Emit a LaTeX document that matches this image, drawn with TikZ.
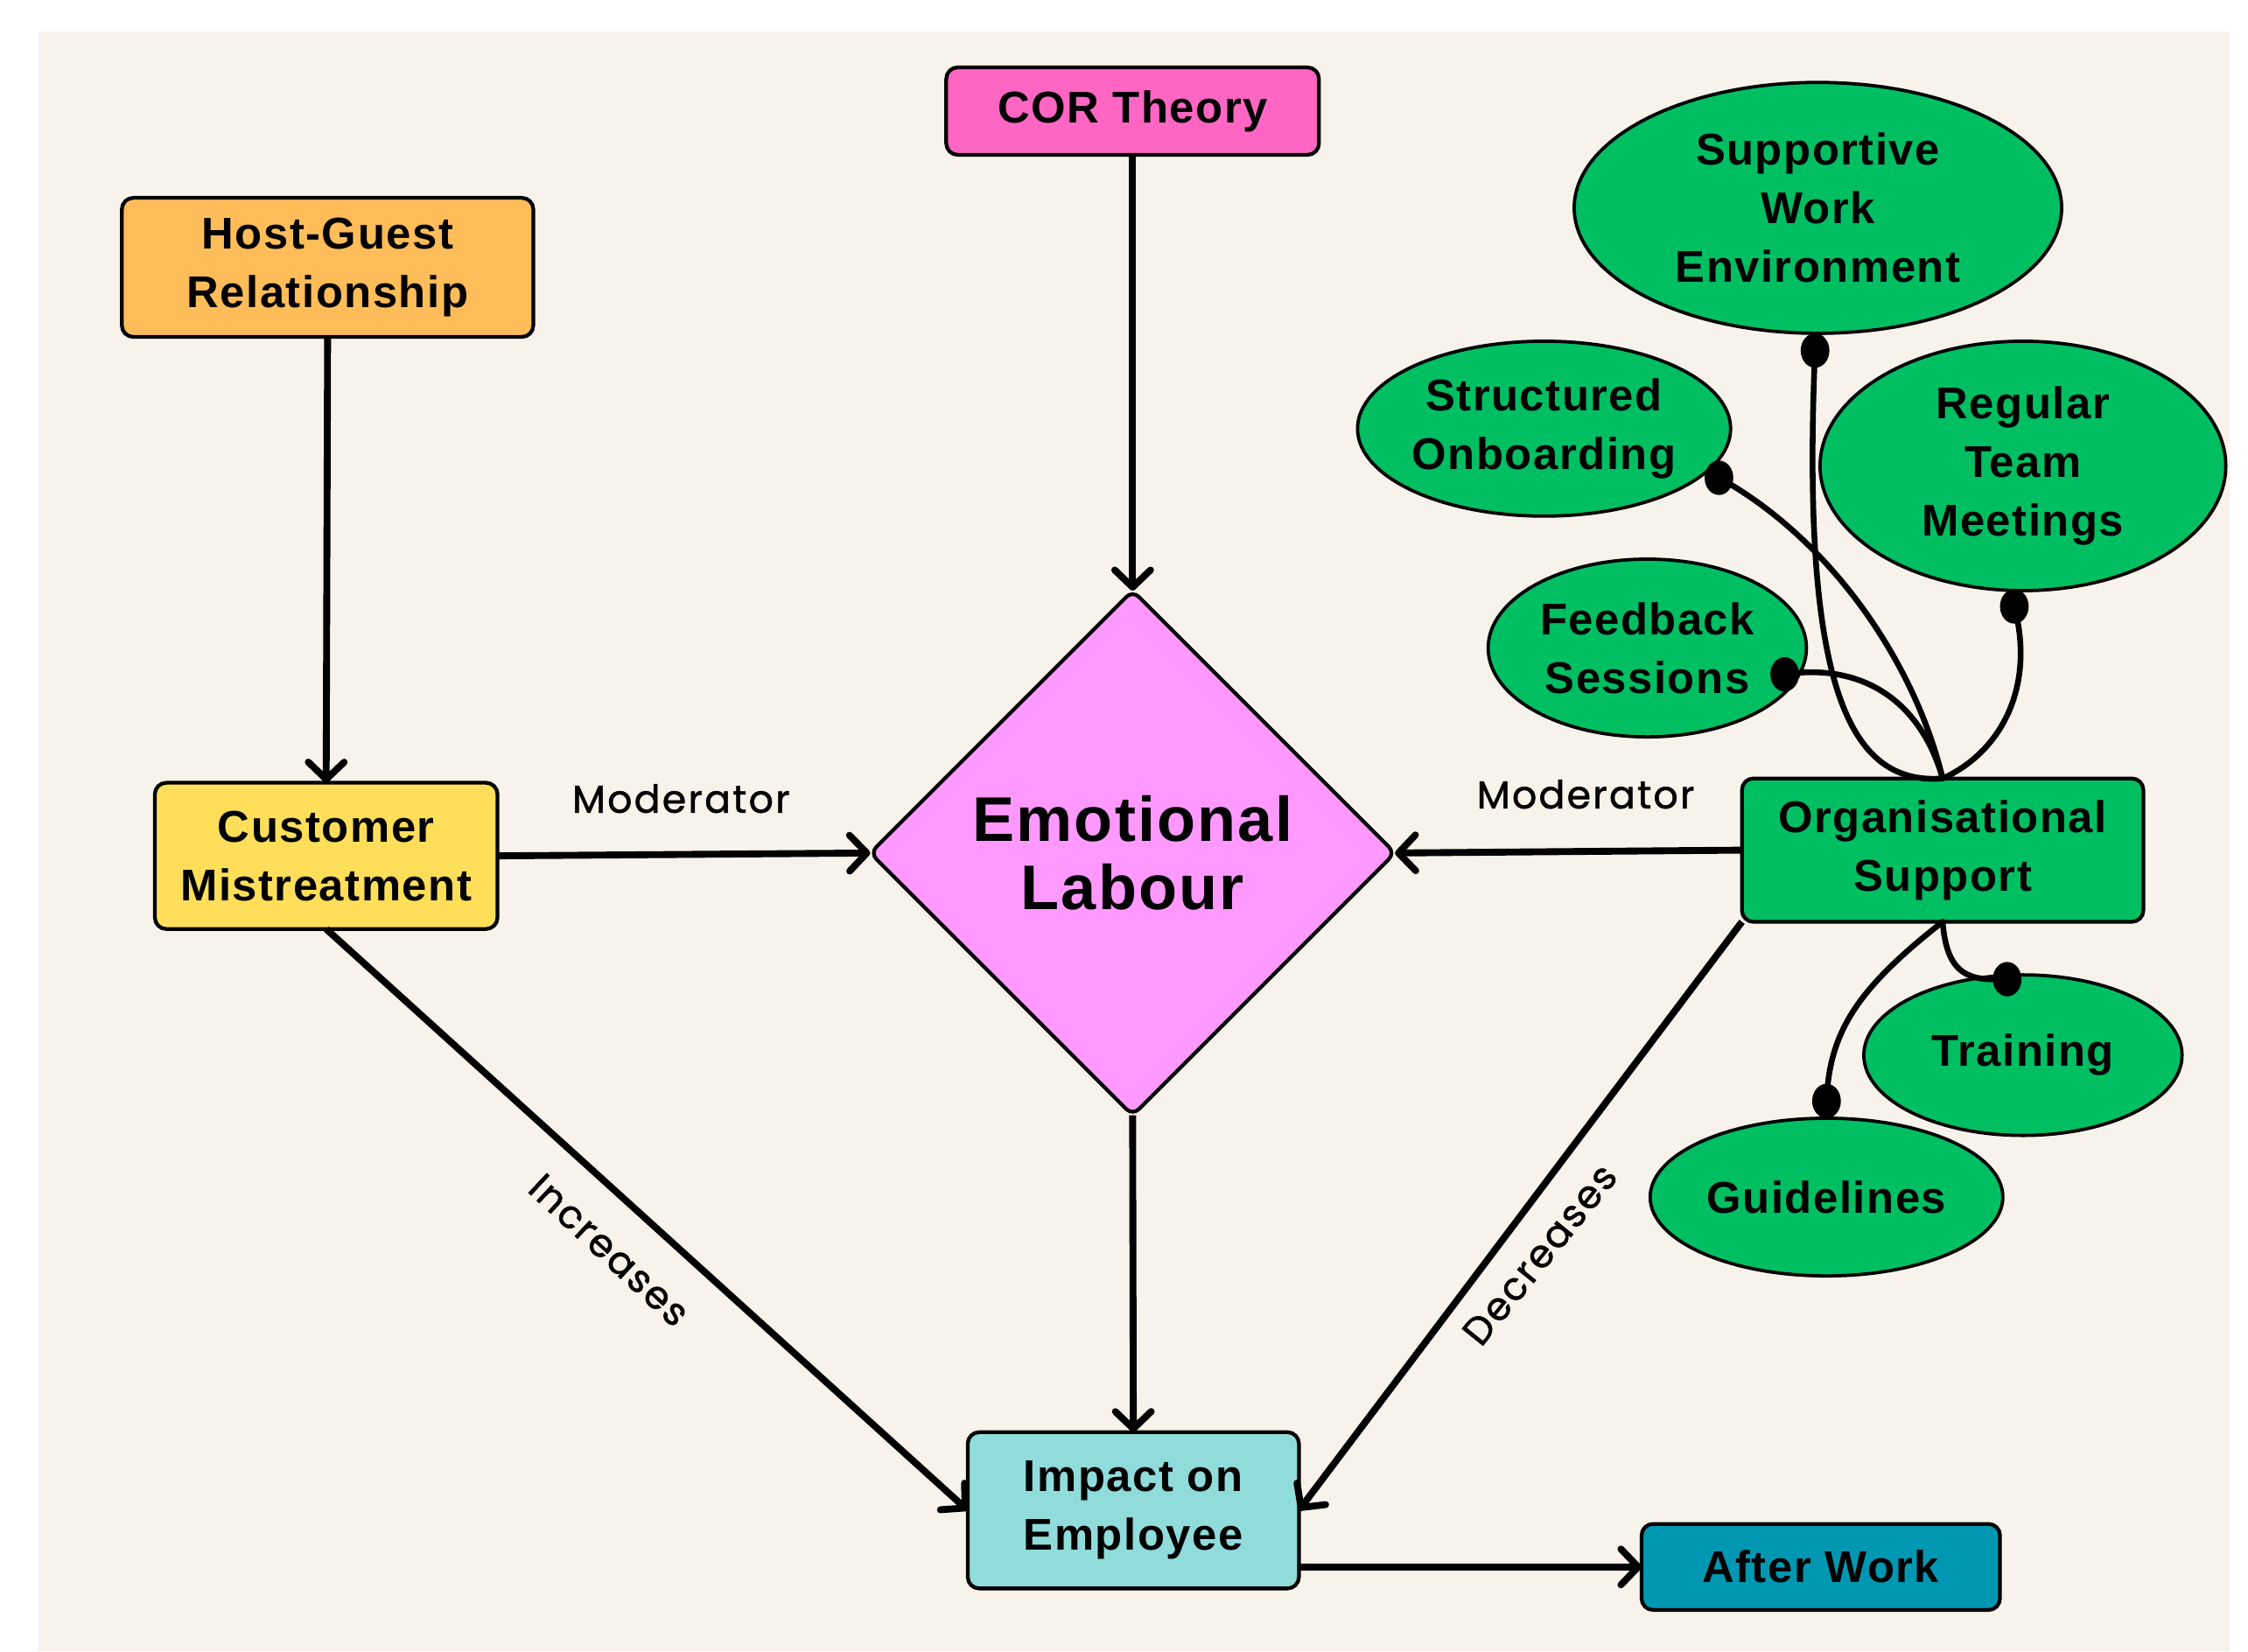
\documentclass[tikz,border=0pt]{standalone}
\usepackage{fontspec}
\setmainfont{Liberation Sans}[LetterSpace=3]
\newfontfamily\labelfont{Poppins}[FakeBold=1.2, LetterSpace=5]
\usetikzlibrary{shapes.geometric,arrows.meta,calc}
\definecolor{bgbeige}{RGB}{247,242,234}
\definecolor{corpink}{RGB}{255,102,196}
\definecolor{hostorange}{RGB}{255,189,89}
\definecolor{custyellow}{RGB}{255,222,89}
\definecolor{labourviolet}{RGB}{255,153,255}
\definecolor{supportgreen}{RGB}{0,191,99}
\definecolor{impactcyan}{RGB}{143,220,219}
\definecolor{afterteal}{RGB}{0,151,178}

\begin{document}
\begin{tikzpicture}[
    x=1pt, y=-1pt,
    every node/.style={inner sep=0pt, outer sep=0pt},
    block/.style={rectangle, rounded corners=8pt, draw=black, line width=2.6pt, align=center,
                  font=\bfseries\fontsize{31}{41}\selectfont},
    factor/.style={ellipse, draw=black, line width=2.3pt, fill=supportgreen, align=center,
                  font=\bfseries\fontsize{31}{41}\selectfont},
    hub/.style={diamond, rounded corners=6pt, draw=black, line width=2.6pt, fill=labourviolet,
                align=center, font=\bfseries\fontsize{44}{48}\selectfont},
    arr/.style={-{Straight Barb[length=12pt,width=25pt,round]}, line width=4.8pt},
    link/.style={line width=4pt, line cap=round},
    lbl/.style={font=\labelfont\fontsize{27}{30}\selectfont},
    dot/.style={fill=black}
]
\useasboundingbox (0,0) rectangle (1568,1152);
\fill[white] (0,0) rectangle (1568,1152);
\fill[bgbeige] (27,22) rectangle (1555,1152);

% main chain
\node[block, fill=corpink, minimum width=260pt, minimum height=61pt] (cor) at (790,77.5) {COR Theory};
\node[block, fill=hostorange, minimum width=287pt, minimum height=97pt] (host) at (228.5,186.5) {Host-Guest\\Relationship};
\node[block, fill=custyellow, minimum width=239pt, minimum height=102pt] (cust) at (227.5,597) {Customer\\Mistreatment};
\node[hub, minimum width=366pt, minimum height=366pt] (labour) at (790,595) {Emotional\\Labour};
\node[block, fill=supportgreen, minimum width=280pt, minimum height=100pt] (org) at (1355,593) {Organisational\\Support};
\node[block, fill=impactcyan, minimum width=231pt, minimum height=109pt] (impact) at (790.5,1053.5) {Impact on\\Employee};
\node[block, fill=afterteal, minimum width=250pt, minimum height=60pt] (after) at (1270,1093) {After Work};

% support factors
\node[factor, minimum width=340pt, minimum height=175pt] (swe) at (1268,145) {Supportive\\Work\\Environment};
\node[factor, minimum width=256pt, minimum height=122pt] (sob) at (1077,299) {Structured\\Onboarding};
\node[factor, minimum width=283pt, minimum height=174pt] (rtm) at (1411,325) {Regular\\Team\\Meetings};
\node[factor, minimum width=222pt, minimum height=124pt] (fbs) at (1149,452) {Feedback\\Sessions};
\node[factor, minimum width=222pt, minimum height=112pt] (trn) at (1411,736) {Training};
\node[factor, minimum width=246pt, minimum height=110pt] (gui) at (1274,835) {Guidelines};

\coordinate (dswe) at ($(swe.south)+(-2,12)$);
\coordinate (dsob) at ($(sob.-15)+(9,4)$);
\coordinate (dfbs) at ($(fbs.-11)+(-9,-2)$);
\coordinate (drtm) at ($(rtm.south)+(-6,11)$);
\coordinate (dtrn) at ($(trn.north)+(-11,3)$);
\coordinate (dgui) at ($(gui.north)+(0,-12)$);

\draw[link] (org.north) .. controls (1290,548) and (1256,480) .. (dswe);
\draw[link] (org.north) .. controls (1335,460) and (1275,375) .. (dsob);
\draw[link] (org.north) .. controls (1340,490) and (1300,462) .. (dfbs);
\draw[link] (org.north) .. controls (1395,525) and (1420,480) .. (drtm);
\draw[link] (org.south) .. controls (1358,682) and (1375,684) .. (dtrn);
\draw[link] (org.south) .. controls (1295,690) and (1276,720) .. (dgui);
\foreach \d in {dswe,dsob,dfbs,drtm,dtrn,dgui}
  \fill[dot] (\d) ellipse [x radius=10pt, y radius=12pt];

% connectors
\draw[arr] (cor.south) -- (labour.north);
\draw[arr] (host.south) -- (cust.north);
\draw[arr] (cust.east) -- (labour.west);
\draw[arr] (org.west) -- (labour.east);
\draw[arr] (labour.south) -- (impact.north);
\draw[arr] (cust.south) -- (impact.west);
\draw[arr] (org.south west) -- (impact.east);
\draw[arr] (impact.east |- after.west) -- (after.west);

\node[lbl] (modl) at (475,557) {Moderator};
\node[lbl] (modr) at (1106,554) {Moderator};
\node[lbl, rotate=-43] (inc) at (425,872) {Increases};
\node[lbl, rotate=51] (dec) at (1074,875) {Decreases};
\end{tikzpicture}
\end{document}
